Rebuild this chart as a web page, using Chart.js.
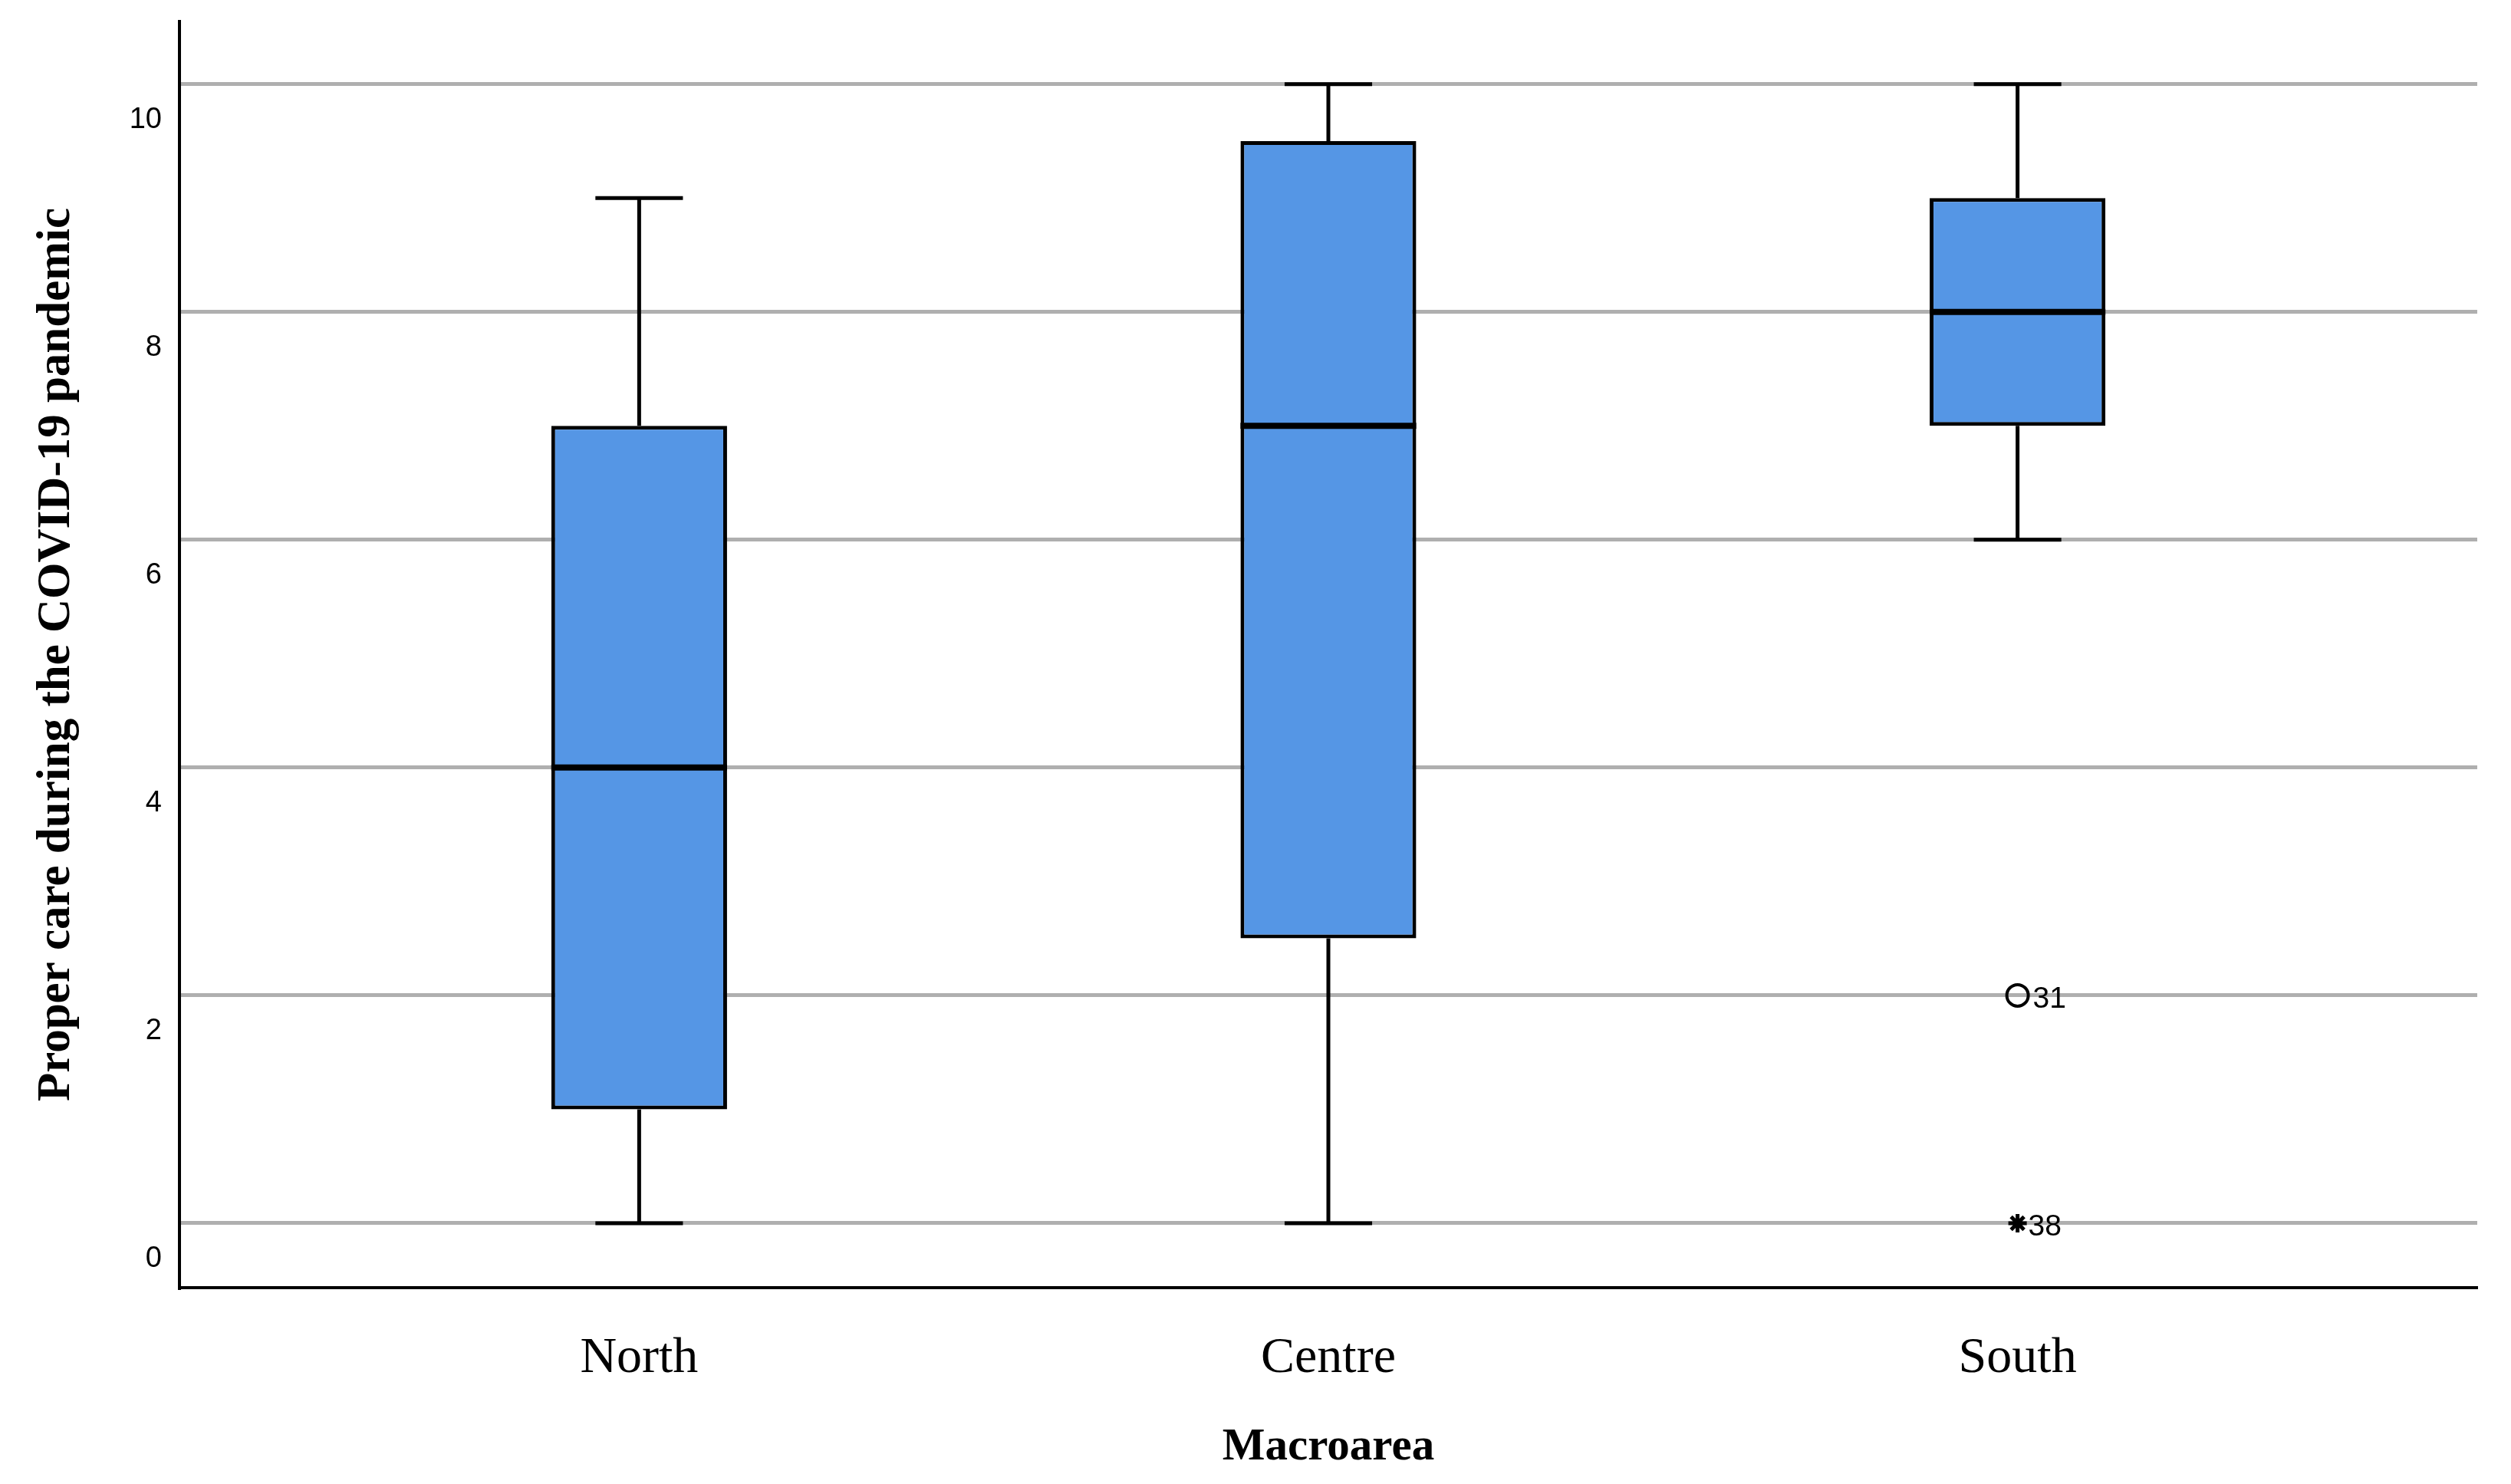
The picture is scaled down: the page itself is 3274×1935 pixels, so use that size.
<!DOCTYPE html>
<html>
<head>
<meta charset="utf-8">
<script src="https://cdn.jsdelivr.net/npm/chart.js@4.4.1/dist/chart.umd.min.js"></script>
<style>
  html, body { margin: 0; padding: 0; background: #fff; }
  #wrap { width: 3274px; height: 1935px; }
</style>
</head>
<body>
<div id="wrap"><canvas id="chart"></canvas></div>
<script>
// ── Data ──────────────────────────────────────────────────────────
const categories = ['North', 'Centre', 'South'];
const minVals    = [0, 0, 6];
const q1Vals     = [1, 2.5, 7];
const medianVals = [4, 7, 8];
const q3Vals     = [7, 9.5, 9];
const maxVals    = [9, 10, 10];

const outlierCats   = [2, 2];
const outlierVals   = [2, 0];
const outlierIds    = ['31', '38'];
const outlierStyles = ['circle', 'star'];

const yTicks = [0, 2, 4, 6, 8, 10];

const SERIF = "'Liberation Serif', 'Times New Roman', serif";
const SANS = "'Liberation Sans', Arial, sans-serif";
const CAP_HALF = 0.0635;   // whisker cap half width, in category units
const BOX_HALF = 0.1275;   // box half width, in category units

// ── Box plot pieces drawn through the scales ──────────────────────
const boxPlotParts = {
  id: 'boxPlotParts',
  beforeDatasetsDraw(chart) {
    const { ctx, scales: { x, y } } = chart;
    ctx.save();
    ctx.strokeStyle = '#000';
    ctx.lineWidth = 5;
    ctx.lineCap = 'butt';
    categories.forEach((c, i) => {
      const cx = x.getPixelForValue(i);
      const l = x.getPixelForValue(i - CAP_HALF);
      const r = x.getPixelForValue(i + CAP_HALF);
      const yMin = y.getPixelForValue(minVals[i]);
      const yMax = y.getPixelForValue(maxVals[i]);
      ctx.beginPath();
      ctx.moveTo(cx, yMin); ctx.lineTo(cx, y.getPixelForValue(q1Vals[i]));
      ctx.moveTo(cx, y.getPixelForValue(q3Vals[i])); ctx.lineTo(cx, yMax);
      ctx.moveTo(l, yMin); ctx.lineTo(r, yMin);
      ctx.moveTo(l, yMax); ctx.lineTo(r, yMax);
      ctx.stroke();
    });
    ctx.restore();
  },
  afterDatasetsDraw(chart) {
    const { ctx, scales: { x, y } } = chart;
    ctx.save();
    ctx.strokeStyle = '#000';
    ctx.lineWidth = 8;
    categories.forEach((c, i) => {
      const yMed = y.getPixelForValue(medianVals[i]);
      ctx.beginPath();
      ctx.moveTo(x.getPixelForValue(i - BOX_HALF), yMed);
      ctx.lineTo(x.getPixelForValue(i + BOX_HALF), yMed);
      ctx.stroke();
    });
    // outlier case numbers
    ctx.fillStyle = '#000';
    ctx.font = '39px ' + SANS;
    ctx.textAlign = 'left';
    ctx.textBaseline = 'middle';
    outlierIds.forEach((id, i) => {
      const px = x.getPixelForValue(outlierCats[i]);
      const py = y.getPixelForValue(outlierVals[i]);
      ctx.fillText(id, px + (outlierStyles[i] === 'circle' ? 20 : 14), py + 5);
    });
    ctx.restore();
  },
};

// ── Chart ─────────────────────────────────────────────────────────
const ctx = document.getElementById('chart').getContext('2d');

new Chart(ctx, {
  type: 'bar',
  data: {
    datasets: [
      {
        type: 'bar',
        data: categories.map((c, i) => ({ x: i, y: [q1Vals[i], q3Vals[i]] })),
        backgroundColor: '#5596e5',
        borderColor: '#000',
        borderWidth: 5,
        borderSkipped: false,
        barPercentage: 0.255,
        categoryPercentage: 1,
      },
      {
        type: 'scatter',
        data: outlierVals.map((v, i) => ({ x: outlierCats[i], y: v })),
        pointStyle: outlierStyles,
        pointRadius: [14, 12],
        pointBorderWidth: [4, 5],
        borderColor: '#000',
        backgroundColor: 'rgba(0,0,0,0)',
        showLine: false,
      },
    ],
  },
  options: {
    responsive: true,
    maintainAspectRatio: false,
    animation: false,
    layout: { padding: { left: 0, right: 44, top: 28, bottom: 0 } },
    plugins: {
      legend: { display: false },
      tooltip: { enabled: false },
    },
    scales: {
      x: {
        type: 'linear',
        offset: false,
        min: -0.667,
        max: 2.667,
        afterBuildTicks: (scale) => { scale.ticks = categories.map((c, i) => ({ value: i })); },
        afterFit: (scale) => {
          scale.height = 256;
          scale.paddingLeft = 0;
          scale.paddingRight = 0;
        },
        grid: { display: false, drawTicks: false, offset: false },
        border: { display: true, color: '#000', width: 4 },
        ticks: {
          color: '#000',
          padding: 53,
          maxRotation: 0,
          font: { family: SERIF, size: 66 },
          callback: (value) => categories[value],
        },
        title: {
          display: true,
          text: 'Macroarea',
          color: '#000',
          font: { family: SERIF, size: 59, weight: 'bold' },
          padding: { top: 0, bottom: 12 },
        },
      },
      y: {
        min: -0.566,
        max: 10.55,
        afterBuildTicks: (scale) => { scale.ticks = yTicks.map(v => ({ value: v })); },
        afterFit: (scale) => {
          scale.width = 234;
          scale.paddingTop = 0;
          scale.paddingBottom = 0;
        },
        grid: { color: '#afafaf', lineWidth: 5, drawTicks: false },
        border: { display: true, color: '#000', width: 4 },
        ticks: {
          color: '#000',
          padding: 23,
          labelOffset: 47,
          font: { family: SANS, size: 38 },
        },
        title: {
          display: true,
          text: 'Proper care during the COVID-19 pandemic',
          color: '#000',
          font: { family: SERIF, size: 61, weight: 'bold' },
          padding: { top: 38, bottom: 0 },
        },
      },
    },
  },
  plugins: [boxPlotParts],
});
</script>
</body>
</html>
